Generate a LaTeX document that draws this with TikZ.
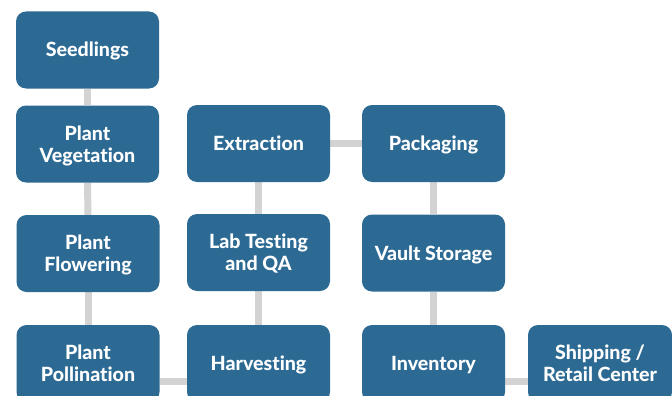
\documentclass[tikz,border=0pt]{standalone}
\usepackage{fontspec}
\setmainfont{Lato}[Ligatures=NoCommon]
\newfontfamily\stagefont{Lato Heavy}[Ligatures=NoCommon]
\usetikzlibrary{backgrounds}
\definecolor{boxblue}{RGB}{44,106,148}
\definecolor{linkgray}{RGB}{211,211,211}
\begin{document}
\begin{tikzpicture}[x=1pt,y=-1pt,
  stage/.style={rectangle, rounded corners=10pt, fill=boxblue, text=white,
    minimum width=143pt, minimum height=77pt, inner sep=0pt, align=center,
    text height=14pt, text depth=0pt,
    font=\stagefont\fontsize{19.6}{22}\selectfont},
  twoline/.style={text height=36pt},
  link/.style={draw=linkgray, line width=7pt}]
\useasboundingbox (0,0) rectangle (672,396);
% left column: growing
\node[stage] (seed) at (87.5,50) {Seedlings};
\node[stage, twoline] (veg)  at (87.5,144) {Plant\\Vegetation};
\node[stage, twoline] (flow) at (88,253.5) {Plant\\Flowering};
\node[stage, twoline] (poll) at (88,363.5) {Plant\\Pollination};
% middle column: processing
\node[stage] (extr) at (258.5,143.5) {Extraction};
\node[stage, twoline] (lab)  at (258.5,252.5) {Lab Testing\\and QA};
\node[stage] (harv) at (258.5,363.5) {Harvesting};
% right column: storage and distribution
\node[stage] (pack) at (433.5,143.5) {Packaging};
\node[stage] (vault) at (433.5,253) {Vault Storage};
\node[stage] (inv)  at (433.5,363.5) {Inventory};
\node[stage, twoline, minimum width=144pt] (ship) at (600,363.5) {Shipping /\\Retail Center};
% connectors behind the boxes
\begin{scope}[on background layer]
  \draw[link] (seed) -- (veg);
  \draw[link] (veg) -- (flow);
  \draw[link] (flow) -- (poll);
  \draw[link] ([yshift=-18pt]poll.east) -- ([yshift=-18pt]harv.west);
  \draw[link] (harv) -- (lab);
  \draw[link] (lab) -- (extr);
  \draw[link] (extr) -- (pack);
  \draw[link] (pack) -- (vault);
  \draw[link] (vault) -- (inv);
  \draw[link] ([yshift=-18pt]inv.east) -- ([yshift=-18pt]ship.west);
\end{scope}
\end{tikzpicture}
\end{document}
